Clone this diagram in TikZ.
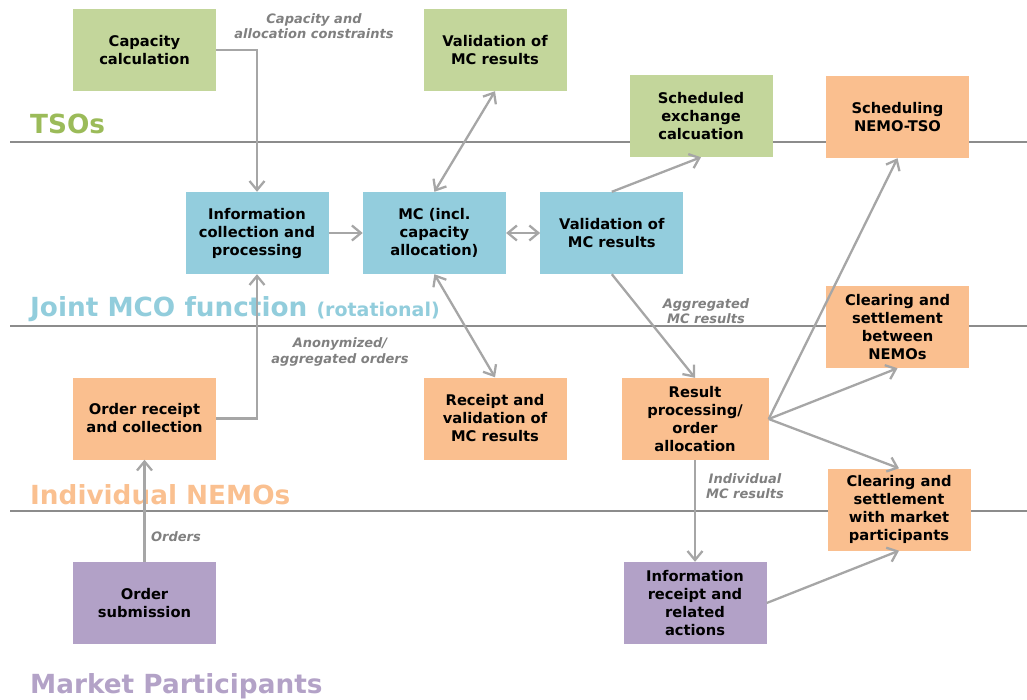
\documentclass[tikz,border=0pt]{standalone}
\usepackage{fontspec}
\setmainfont{DejaVu Sans}
\usetikzlibrary{chains,positioning,arrows.meta}

\definecolor{tsogreen}{HTML}{9BBB59}
\definecolor{mcoblue}{HTML}{92CDDC}
\definecolor{nemoorange}{HTML}{FAC090}
\definecolor{partpurple}{HTML}{B3A2C7}
\definecolor{tsofill}{HTML}{C3D69B}
\definecolor{mcofill}{HTML}{93CDDD}
\definecolor{nemofill}{HTML}{FABF8F}
\definecolor{partfill}{HTML}{B2A1C7}
\definecolor{arrowgray}{HTML}{A6A6A6}
\definecolor{sepgray}{HTML}{8C8C8C}
\definecolor{flowgray}{HTML}{808080}

\newcommand{\boxfont}{\fontsize{14.7}{18}\selectfont\bfseries}
\newcommand{\flowfont}{\fontsize{13}{15.5}\selectfont\bfseries\itshape}
\newcommand{\lanefont}{\fontsize{26.3}{30}\selectfont\bfseries}
\newcommand{\rotfont}{\fontsize{19}{22}\selectfont}

\begin{document}
\begin{tikzpicture}[x=1pt,y=-1pt,
        >={Straight Barb[length=9pt,width=15pt]},
        box/.style={
            minimum width=143pt,
            minimum height=82pt,
            inner sep=2pt,
            align=center,
            font=\boxfont
        },
        tso/.style={box, fill=tsofill},
        mco/.style={box, fill=mcofill},
        nemo/.style={box, fill=nemofill},
        part/.style={box, fill=partfill},
        arr/.style={draw=arrowgray, line width=2.3pt},
        flow/.style={text=flowgray, align=center, font=\flowfont, inner sep=0pt},
        lane/.style={anchor=base west, font=\lanefont, inner sep=0pt},
        node distance=34pt
        ]
        \useasboundingbox (0,0) rectangle (1027,699);

        % lanes
        \draw[sepgray, line width=2pt] (10,142) -- (1027,142);
        \draw[sepgray, line width=2pt] (10,326) -- (1027,326);
        \draw[sepgray, line width=2pt] (10,511) -- (1027,511);

        \node[lane, text=tsogreen] (tsos) at (30,133) {TSOs};
        \node[lane, text=mcoblue] (joint) at (30,316) {Joint MCO function {\rotfont(rotational)}};
        \node[lane, text=nemoorange] (nemos) at (30,504) {Individual NEMOs};
        \node[lane, text=partpurple] (parts) at (30,693) {Market Participants};

        % TSOs
        \node[tso] (cap) at (144.5,50) {Capacity\\calculation};
        \node[tso] (valg) at (495,50) {Validation of\\MC results};
        \node[tso] (sched) at (701,116) {Scheduled\\exchange\\calcuation};

        % joint MCO function
        \begin{scope}[start chain=1 going right]
            \node[on chain=1, mco] at (257,233)
              (info) {Information\\collection and\\processing};
            \node[on chain=1, mco, join=by {arr,->}]
              (mc) {MC (incl.\\capacity\\allocation)};
            \node[on chain=1, mco, join=by {arr,<->}]
              (valb) {Validation of\\MC results};
        \end{scope}

        % NEMOs
        \node[nemo] (schednt) at (897.5,117) {Scheduling\\NEMO-TSO};
        \node[nemo] (clearn) at (897.5,327) {Clearing and\\settlement\\between\\NEMOs};
        \node[nemo] (ordrec) at (144.5,418.5) {Order receipt\\and collection};
        \node[nemo] (recval) at (495,418.5) {Receipt and\\validation of\\MC results};
        \node[nemo, minimum width=147pt] (respro) at (695,419) {Result\\processing/\\order\\allocation};
        \node[nemo] (clearmp) at (899,509.5) {Clearing and\\settlement\\with market\\participants};

        % market participants
        \node[part] (ordsub) at (144.5,603) {Order\\submission};
        \node[part] (inforec) at (695,603) {Information\\receipt and\\related\\actions};

        % flows
        \draw[arr,->] (cap.east) -| (info.north);
        \draw[arr,->] (ordrec.east) -| (info.south);
        \draw[arr,<->] (mc.north) -- (valg.south);
        \draw[arr,<->] (mc.south) -- (recval.north);
        \draw[arr,->] (valb.north) -- (sched.south);
        \draw[arr,->] (valb.south) -- (respro.north);
        \draw[arr,->] (ordsub) -- (ordrec);
        \draw[arr,->] (respro.east) -- (schednt.south);
        \draw[arr,->] (respro.east) -- (clearn.south);
        \draw[arr,->] (respro.east) -- (clearmp.north);
        \draw[arr,->] (respro) -- (inforec);
        \draw[arr,->] (inforec.east) -- (clearmp.south);

        \node[flow] (capcon) at (314,26) {Capacity and\\allocation constraints};
        \node[flow] (anon) at (340,352) {Anonymized/\\aggregated orders};
        \node[flow] (aggr) at (706,311) {Aggregated\\MC results};
        \node[flow] (ords) at (176,537) {Orders};
        \node[flow] (indiv) at (745,486) {Individual\\MC results};
\end{tikzpicture}
\end{document}
